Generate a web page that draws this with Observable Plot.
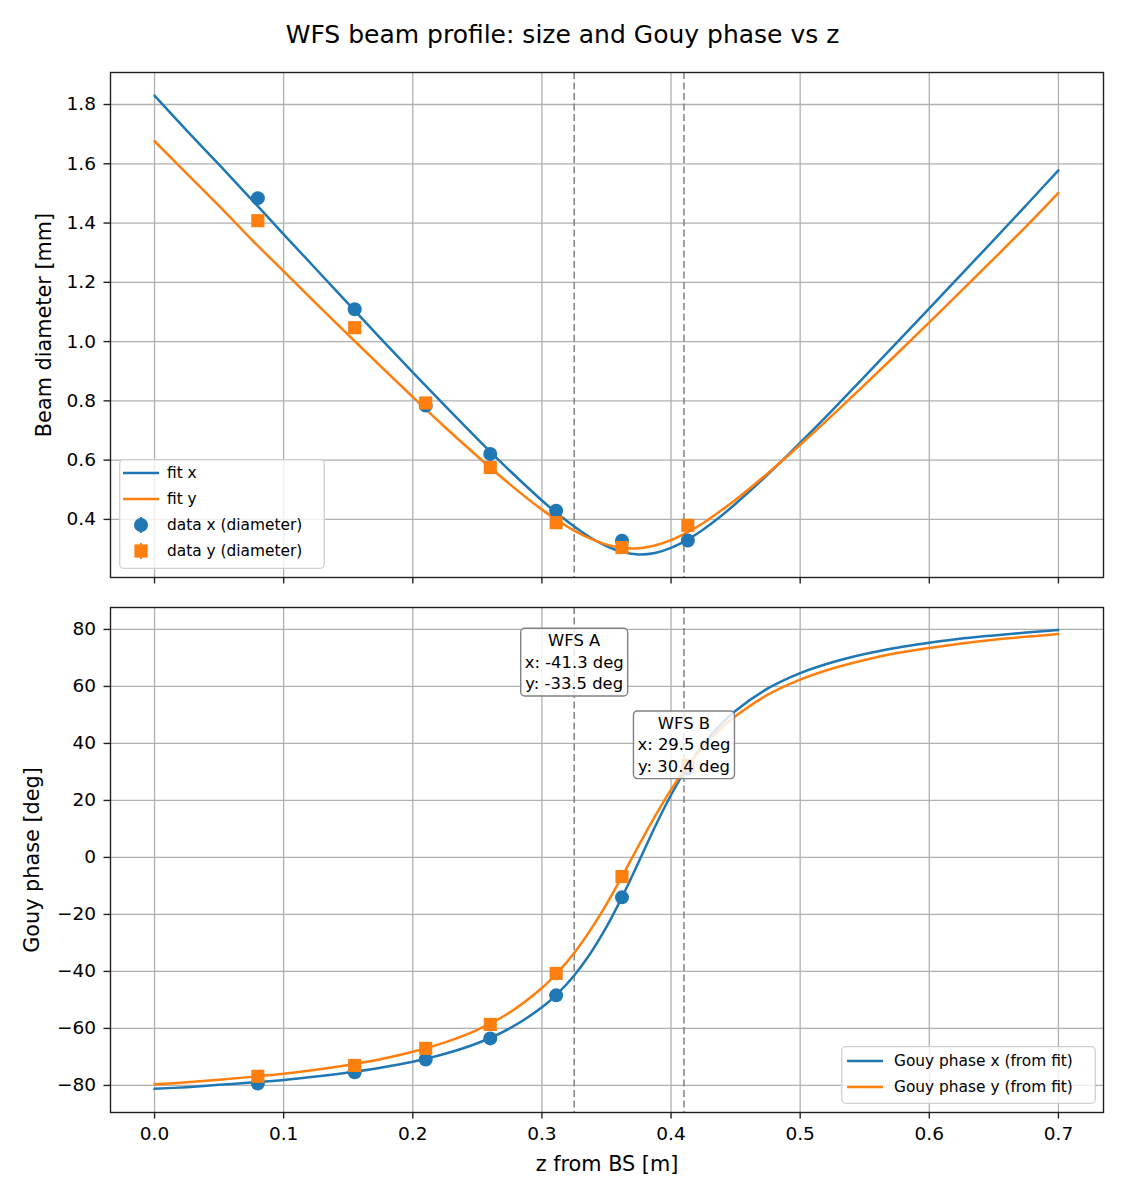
<!DOCTYPE html>
<html>
<head>
<meta charset="utf-8">
<script src="https://cdn.jsdelivr.net/npm/d3@7"></script>
<script src="https://cdn.jsdelivr.net/npm/@observablehq/plot@0.6"></script>
<style>
  html, body { margin: 0; padding: 0; background: #fff; }
  #root { position: relative; width: 1125px; height: 1200px; background: #fff; font-family: "DejaVu Sans", sans-serif; overflow: hidden; }
  #title { position: absolute; left: 0; top: 20px; width: 1125px; text-align: center; font-size: 25px; line-height: 30px; color: #000; }
  .panel { position: absolute; left: 0; }
  .legend { position: absolute; }
</style>
</head>
<body>
<div id="root">
  <div id="title">WFS beam profile: size and Gouy phase vs z</div>
  <div id="top" class="panel" style="top:0px"></div>
  <div id="bot" class="panel" style="top:590px"></div>
</div>
<script>
// ---------------- data ----------------
const zData = [0.08, 0.155, 0.21, 0.26, 0.311, 0.362, 0.413];
const diamX = [1.484, 1.109, 0.784, 0.621, 0.429, 0.328, 0.329];
const diamY = [1.408, 1.047, 0.793, 0.575, 0.389, 0.305, 0.380];
const gouyDataX = [-79.3, -75.4, -70.9, -63.5, -48.4, -14.0, 31.2];
const gouyDataY = [-76.8, -73.0, -67.0, -58.6, -40.7, -6.7, 32.3];

const zFit = [0, 0.025, 0.05, 0.075, 0.1, 0.125, 0.15, 0.175, 0.2, 0.225, 0.25, 0.275, 0.3,
  0.3125, 0.325, 0.3375, 0.35, 0.3625, 0.375, 0.3875, 0.4, 0.4125, 0.425, 0.4375, 0.45,
  0.475, 0.5, 0.525, 0.55, 0.575, 0.6, 0.625, 0.65, 0.675, 0.7];
const fitDiamX = [1.830, 1.712, 1.597, 1.480, 1.362, 1.245, 1.128, 1.011, 0.896, 0.783, 0.672, 0.565, 0.464,
  0.418, 0.376, 0.339, 0.310, 0.290, 0.282, 0.287, 0.304, 0.331, 0.366, 0.407, 0.453,
  0.552, 0.659, 0.769, 0.883, 0.997, 1.112, 1.228, 1.343, 1.460, 1.578];
const fitDiamY = [1.676, 1.567, 1.458, 1.345, 1.237, 1.129, 1.023, 0.917, 0.813, 0.711, 0.613, 0.519, 0.433,
  0.396, 0.362, 0.335, 0.315, 0.304, 0.303, 0.312, 0.330, 0.356, 0.388, 0.426, 0.466,
  0.556, 0.652, 0.752, 0.855, 0.959, 1.065, 1.172, 1.280, 1.389, 1.502];
const fitGouyX = [-81.2, -80.6, -79.8, -79.0, -78.1, -76.9, -75.5, -73.8, -71.7, -68.9, -65.2, -60.0, -52.6,
  -47.6, -41.4, -33.7, -24.4, -13.5, -1.5, 10.7, 21.9, 31.6, 39.7, 46.2, 51.5,
  59.3, 64.7, 68.5, 71.4, 73.6, 75.3, 76.8, 77.9, 78.9, 79.8];
const fitGouyY = [-79.6, -78.9, -78.0, -77.0, -75.9, -74.5, -72.8, -70.8, -68.2, -64.9, -60.5, -54.4, -45.8,
  -40.2, -33.5, -25.5, -16.4, -6.3, 4.2, 14.4, 23.8, 32.0, 39.0, 44.8, 49.6,
  57.1, 62.4, 66.3, 69.3, 71.7, 73.5, 75.1, 76.4, 77.4, 78.4];

const wfsZ = [0.325, 0.41];
const wfsLabels = ["WFS A\nx: -41.3 deg\ny: -33.5 deg", "WFS B\nx: 29.5 deg\ny: 30.4 deg"];
const wfsLabelY = [79.4, 50.4];

const xTicks = [0, 0.1, 0.2, 0.3, 0.4, 0.5, 0.6, 0.7];
const yTicksTop = [0.4, 0.6, 0.8, 1.0, 1.2, 1.4, 1.6, 1.8];
const yTicksBot = [-80, -60, -40, -20, 0, 20, 40, 60, 80];

const xDomain = [-0.0341, 0.7349];
const yDomainTop = [0.204, 1.908];
const yDomainBot = [-89.5, 87.7];

const BLUE = "#1f77b4", ORANGE = "#ff7f0e";
const GRID = "#b0b0b0", INK = "#222";

// ---------------- rows ----------------
const fitXRows = zFit.map((z, i) => ({z, d: fitDiamX[i], g: fitGouyX[i]}));
const fitYRows = zFit.map((z, i) => ({z, d: fitDiamY[i], g: fitGouyY[i]}));
const dataXRows = zData.map((z, i) => ({z, d: diamX[i], g: gouyDataX[i]}));
const dataYRows = zData.map((z, i) => ({z, d: diamY[i], g: gouyDataY[i]}));
const annoRows = wfsZ.map((z, i) => ({z, y: wfsLabelY[i], text: wfsLabels[i]}));

const fmtMinus = d => (d < 0 ? "\u2212" + Math.abs(d) : String(d));
const baseStyle = {fontSize: "18.5px", fontFamily: "DejaVu Sans, sans-serif", color: "#000", background: "transparent", overflow: "visible"};

// ---------------- top panel ----------------
const topPlot = Plot.plot({
  width: 1125, height: 590,
  marginTop: 72, marginRight: 22, marginBottom: 13, marginLeft: 110,
  style: baseStyle,
  x: {domain: xDomain},
  y: {domain: yDomainTop},
  marks: [
    Plot.gridX(xTicks, {stroke: GRID, strokeOpacity: 1, strokeWidth: 1.3}),
    Plot.gridY(yTicksTop, {stroke: GRID, strokeOpacity: 1, strokeWidth: 1.3}),
    Plot.ruleX(wfsZ, {stroke: "#7a7a7a", strokeWidth: 1.4, strokeDasharray: "7,3.5"}),
    Plot.line(fitXRows, {x: "z", y: "d", stroke: BLUE, strokeWidth: 2.5, curve: "catmull-rom"}),
    Plot.line(fitYRows, {x: "z", y: "d", stroke: ORANGE, strokeWidth: 2.5, curve: "catmull-rom"}),
    Plot.dot(dataXRows, {x: "z", y: "d", r: 7, symbol: "circle", fill: BLUE, stroke: "none"}),
    Plot.dot(dataYRows, {x: "z", y: "d", r: 7.4, symbol: "square", fill: ORANGE, stroke: "none"}),
    Plot.axisX(xTicks, {tickSize: 6.5, stroke: INK, strokeWidth: 1.4, tickFormat: () => "", label: null}),
    Plot.axisY(yTicksTop, {tickSize: 6.5, tickPadding: 8, stroke: INK, strokeWidth: 1.4, fill: "#000", tickFormat: d => d.toFixed(1), label: null}),
    Plot.text(["Beam diameter [mm]"], {text: d => d, frameAnchor: "left", rotate: -90, dx: -66, textAnchor: "middle", lineAnchor: "middle", fontSize: 20.8, fill: "#000"}),
    Plot.frame({stroke: INK, strokeWidth: 1.4})
  ]
});
document.getElementById("top").appendChild(topPlot);

// ---------------- bottom panel ----------------
const botPlot = Plot.plot({
  width: 1125, height: 610,
  marginTop: 17, marginRight: 22, marginBottom: 88, marginLeft: 110,
  style: baseStyle,
  x: {domain: xDomain},
  y: {domain: yDomainBot},
  marks: [
    Plot.gridX(xTicks, {stroke: GRID, strokeOpacity: 1, strokeWidth: 1.3}),
    Plot.gridY(yTicksBot, {stroke: GRID, strokeOpacity: 1, strokeWidth: 1.3}),
    Plot.ruleX(wfsZ, {stroke: "#7a7a7a", strokeWidth: 1.4, strokeDasharray: "7,3.5"}),
    Plot.line(fitXRows, {x: "z", y: "g", stroke: BLUE, strokeWidth: 2.5, curve: "catmull-rom"}),
    Plot.line(fitYRows, {x: "z", y: "g", stroke: ORANGE, strokeWidth: 2.5, curve: "catmull-rom"}),
    Plot.dot(dataXRows, {x: "z", y: "g", r: 7, symbol: "circle", fill: BLUE, stroke: "none"}),
    Plot.dot(dataYRows, {x: "z", y: "g", r: 7.4, symbol: "square", fill: ORANGE, stroke: "none"}),
    Plot.text(annoRows, {x: "z", y: "y", text: "text", lineAnchor: "top", textAnchor: "middle", fontSize: 16.4, lineHeight: 1.3, fill: "#000", className: "anno"}),
    Plot.axisX(xTicks, {tickSize: 6.5, tickPadding: 8, stroke: INK, strokeWidth: 1.4, fill: "#000", tickFormat: d => d.toFixed(1), label: null}),
    Plot.axisY(yTicksBot, {tickSize: 6.5, tickPadding: 8, stroke: INK, strokeWidth: 1.4, fill: "#000", tickFormat: fmtMinus, label: null}),
    Plot.text(["Gouy phase [deg]"], {text: d => d, frameAnchor: "left", rotate: -90, dx: -78, textAnchor: "middle", lineAnchor: "middle", fontSize: 20.8, fill: "#000"}),
    Plot.text(["z from BS [m]"], {text: d => d, frameAnchor: "bottom", dy: 52, textAnchor: "middle", lineAnchor: "middle", fontSize: 20.8, fill: "#000"}),
    Plot.frame({stroke: INK, strokeWidth: 1.4})
  ]
});
document.getElementById("bot").appendChild(botPlot);

// boxes behind the annotation texts
d3.select(botPlot).selectAll("g.anno text").each(function() {
  const bb = this.getBBox();
  const pad = 4;
  const r = document.createElementNS("http://www.w3.org/2000/svg", "rect");
  r.setAttribute("x", bb.x - pad);
  r.setAttribute("y", bb.y - pad + 1);
  r.setAttribute("width", bb.width + 2 * pad);
  r.setAttribute("height", bb.height + 2 * pad - 2);
  r.setAttribute("rx", 4);
  r.setAttribute("fill", "rgba(255,255,255,0.82)");
  r.setAttribute("stroke", "#808080");
  r.setAttribute("stroke-width", 1.4);
  const t = this.getAttribute("transform");
  if (t) r.setAttribute("transform", t);
  this.parentNode.insertBefore(r, this);
});

// ---------------- legends ----------------
function legend(parent, opts) {
  const {left, top, width, height, items, font, lineX0, lineX1, textX, rowY} = opts;
  const svg = d3.select(parent).append("svg")
    .attr("class", "legend")
    .attr("width", width).attr("height", height)
    .style("left", left + "px").style("top", top + "px")
    .style("position", "absolute")
    .style("font-family", "DejaVu Sans, sans-serif");
  svg.append("rect").attr("x", 0.7).attr("y", 0.7).attr("width", width - 1.4).attr("height", height - 1.4)
    .attr("rx", 4).attr("fill", "rgba(255,255,255,0.8)").attr("stroke", "#d0d0d0").attr("stroke-width", 1.3);
  items.forEach((it, i) => {
    const cy = rowY[i];
    const cx = (lineX0 + lineX1) / 2;
    if (it.kind === "line") {
      svg.append("line").attr("x1", lineX0).attr("x2", lineX1).attr("y1", cy).attr("y2", cy)
        .attr("stroke", it.color).attr("stroke-width", 2.5);
    } else {
      svg.append("line").attr("x1", cx).attr("x2", cx).attr("y1", cy - 8).attr("y2", cy + 8)
        .attr("stroke", it.color).attr("stroke-width", 2);
      if (it.kind === "circle") svg.append("circle").attr("cx", cx).attr("cy", cy).attr("r", 7).attr("fill", it.color);
      else svg.append("rect").attr("x", cx - 6.6).attr("y", cy - 6.6).attr("width", 13.2).attr("height", 13.2).attr("fill", it.color);
    }
    svg.append("text").attr("x", textX).attr("y", cy).attr("dy", "0.35em")
      .attr("font-size", font).attr("fill", "#000").text(it.label);
  });
}
const root = document.getElementById("root");
legend(root, {
  left: 119, top: 459, width: 206, height: 110, font: 15.4,
  lineX0: 4, lineX1: 40, textX: 48, rowY: [14, 40, 66, 92],
  items: [
    {kind: "line", color: BLUE, label: "fit x"},
    {kind: "line", color: ORANGE, label: "fit y"},
    {kind: "circle", color: BLUE, label: "data x (diameter)"},
    {kind: "square", color: ORANGE, label: "data y (diameter)"}
  ]
});
legend(root, {
  left: 841, top: 1046, width: 255, height: 58, font: 15.4,
  lineX0: 6, lineX1: 42, textX: 53, rowY: [15, 41],
  items: [
    {kind: "line", color: BLUE, label: "Gouy phase x (from fit)"},
    {kind: "line", color: ORANGE, label: "Gouy phase y (from fit)"}
  ]
});
</script>
</body>
</html>
